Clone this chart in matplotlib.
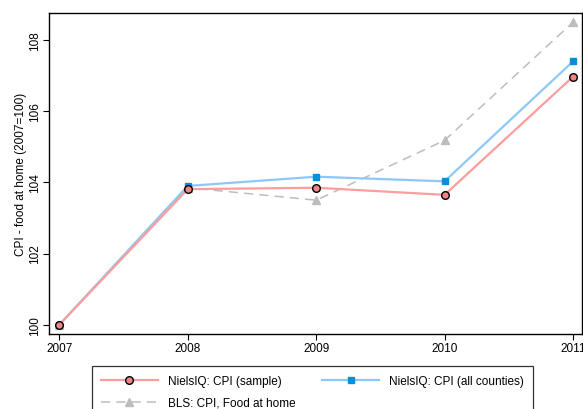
import matplotlib.pyplot as plt

plt.rcParams['font.family'] = ['Liberation Sans', 'DejaVu Sans']

years = [2007, 2008, 2009, 2010, 2011]
cpi_sample = [100.0, 103.81, 103.85, 103.65, 106.97]
cpi_all = [100.0, 103.90, 104.16, 104.03, 107.40]
cpi_bls = [100.0, 103.85, 103.50, 105.18, 108.50]
yticks = [100, 102, 104, 106, 108]

fig = plt.figure(figsize=(5.83, 4.10), dpi=100)
ax = fig.add_axes([49 / 583, 1 - 335 / 410, (582 - 49) / 583, (335 - 14) / 410])

l1, = ax.plot(years, cpi_sample, color='#ff9c9c', lw=1.6, marker='o', ms=5.5,
              mfc='#f08585', mec='black', mew=1.0, label='NielsIQ: CPI (sample)', zorder=3)
l2, = ax.plot(years, cpi_all, color='#8ec8fb', lw=1.6, marker='s', ms=4.5,
              mfc='#0a8ed8', mec='#0a8ed8', label='NielsIQ: CPI (all counties)', zorder=2)
l3, = ax.plot(years, cpi_bls, color='#bdbdbd', lw=1.1, ls=(0, (6, 4)), marker='^', ms=6,
              mfc='#bdbdbd', mec='#bdbdbd', label='BLS: CPI, Food at home', zorder=1)

ax.set_xlim(2006.92, 2011.07)
ax.set_ylim(99.74, 108.76)
ax.set_xticks(years)
ax.set_yticks(yticks)
ax.set_yticklabels([str(t) for t in yticks], rotation=90, va='center')
ax.tick_params(labelsize=8.5, length=4, width=0.8, direction='out', pad=2)
ax.set_ylabel('CPI - food at home (2007=100)', fontsize=8.5, labelpad=1)
for s in ax.spines.values():
    s.set_linewidth(1.0)

# legend below the plot, two columns, column-major order
leg = fig.legend(handles=[l1, l3, l2], ncol=2, loc='upper left',
                 bbox_to_anchor=(92 / 583, 1 - 367 / 410),
                 fontsize=8.5, frameon=True, fancybox=False,
                 edgecolor='black', handlelength=4.8, handletextpad=0.85,
                 labelspacing=0.85, borderpad=0.75, borderaxespad=0, columnspacing=2.3)
leg.get_frame().set_linewidth(0.9)

fig.savefig('out.png', dpi=100)
